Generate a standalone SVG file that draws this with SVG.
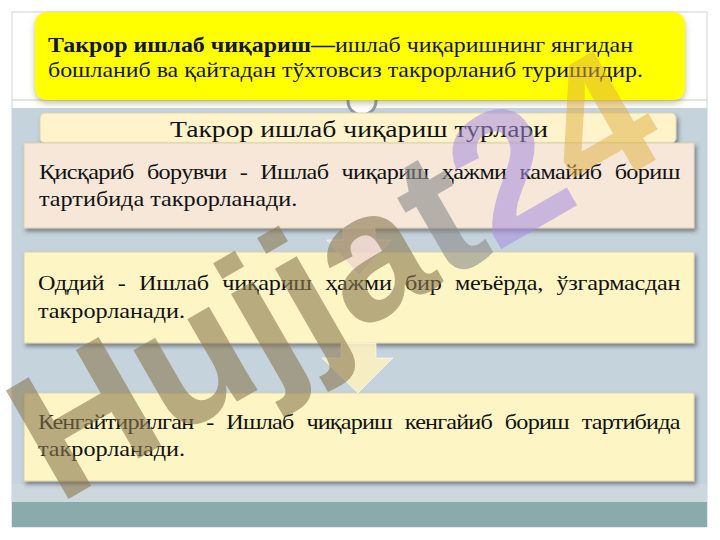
<svg xmlns="http://www.w3.org/2000/svg" width="720" height="540" viewBox="0 0 720 540">
<style>
.t{font-family:"Liberation Serif","Times New Roman",serif;fill:#111;}
.body{font-size:22px;}
.just{word-spacing:7px;}
.head{font-size:21.5px;fill:#141440;}
.box{stroke:#ddd2ac;stroke-width:1;}
.wm{font-family:"Liberation Sans",Arial,sans-serif;font-weight:bold;font-size:182px;}
</style>
<defs>
<filter id="sh" x="-5%" y="-10%" width="112%" height="130%">
<feDropShadow dx="2" dy="3" stdDeviation="2" flood-color="#3a3a4a" flood-opacity="0.55"/>
</filter>
<filter id="sh2" x="-5%" y="-10%" width="112%" height="130%">
<feDropShadow dx="0" dy="3" stdDeviation="3" flood-color="#7a6a20" flood-opacity="0.45"/>
</filter>
</defs>
<rect width="720" height="540" fill="#ffffff"/>
<g id="frame">
<rect x="12" y="12" width="695" height="515" fill="#ffffff" stroke="#d0d4d8" stroke-width="1"/>
<rect x="12" y="108" width="695" height="394" fill="#c5d3dc"/>
<rect x="12" y="484" width="695" height="18" fill="#ccd8de"/>
<rect x="12" y="502" width="695" height="25" fill="#8aabac"/>
<line x1="12" y1="100" x2="707" y2="100" stroke="#c8ccd0" stroke-width="1"/>
<circle cx="362" cy="101" r="14" fill="#ffffff" stroke="#8e9ba6" stroke-width="3"/>
</g>
<g id="definition">
<rect x="35" y="12" width="650" height="88" rx="12" fill="#ffff00" filter="url(#sh2)"/>
<text class="t head" x="48" y="52" textLength="585" lengthAdjust="spacingAndGlyphs"><tspan font-weight="bold">Такрор ишлаб чиқариш—</tspan>ишлаб чиқаришнинг янгидан</text>
<text class="t head" x="48" y="77" textLength="595" lengthAdjust="spacingAndGlyphs">бошланиб ва қайтадан тўхтовсиз такрорланиб туришидир.</text>
</g>
<g id="title">
<rect x="40" y="113" width="636" height="30" rx="5" fill="#fff3cc" stroke="#e0d3a8" stroke-width="1" filter="url(#sh)"/>
<text class="t" x="170" y="137" font-size="24" textLength="378" lengthAdjust="spacingAndGlyphs">Такрор ишлаб чиқариш турлари</text>
</g>
<g id="type1">
<rect class="box" x="24" y="143" width="670" height="85" fill="#f6e7d9" filter="url(#sh)"/>
<text class="t body just" transform="translate(39,179) scale(1.1,1)" textLength="583" lengthAdjust="spacing">Қисқариб борувчи - Ишлаб чиқариш ҳажми камайиб бориш</text>
<text class="t body" transform="translate(39,206) scale(1.1,1)">тартибида такрорланади.</text>
</g>
<g id="type2">
<rect class="box" x="24" y="252" width="670" height="91" fill="#fdf5c4" filter="url(#sh)"/>
<text class="t body just" transform="translate(38,290) scale(1.1,1)" textLength="584" lengthAdjust="spacing">Оддий - Ишлаб чиқариш ҳажми бир меъёрда, ўзгармасдан</text>
<text class="t body" transform="translate(38,318) scale(1.1,1)">такрорланади.</text>
</g>
<g id="type3">
<rect class="box" x="24" y="393" width="670" height="88" fill="#fdf5c4" filter="url(#sh)"/>
<text class="t body just" transform="translate(38,429) scale(1.1,1)" textLength="584" lengthAdjust="spacing">Кенгайтирилган - Ишлаб чиқариш кенгайиб бориш тартибида</text>
<text class="t body" transform="translate(38,456) scale(1.1,1)">такрорланади.</text>
</g>
<g id="connectors">
<path d="M343,228 H375 V240 H391 L359,275 L327,240 H343 Z" fill="#f0d6cc" fill-opacity="0.85" stroke="#ffffff" stroke-opacity="0.6" stroke-width="1"/>
<path d="M341,343 H376 V358 H393 L358,393 L322,358 H341 Z" fill="#fcefc0" fill-opacity="0.9" stroke="#ffffff" stroke-opacity="0.6" stroke-width="1"/>
</g>
<g id="watermark" transform="translate(58,505) rotate(-30)">
<text class="wm" x="0" y="0"><tspan fill="#8a7a50" fill-opacity="0.6">Hujja</tspan><tspan fill="#8a8a8a" fill-opacity="0.6">t</tspan><tspan fill="#a58ce0" fill-opacity="0.55">2</tspan><tspan fill="#e0b040" fill-opacity="0.5">4</tspan></text>
</g>
</svg>
